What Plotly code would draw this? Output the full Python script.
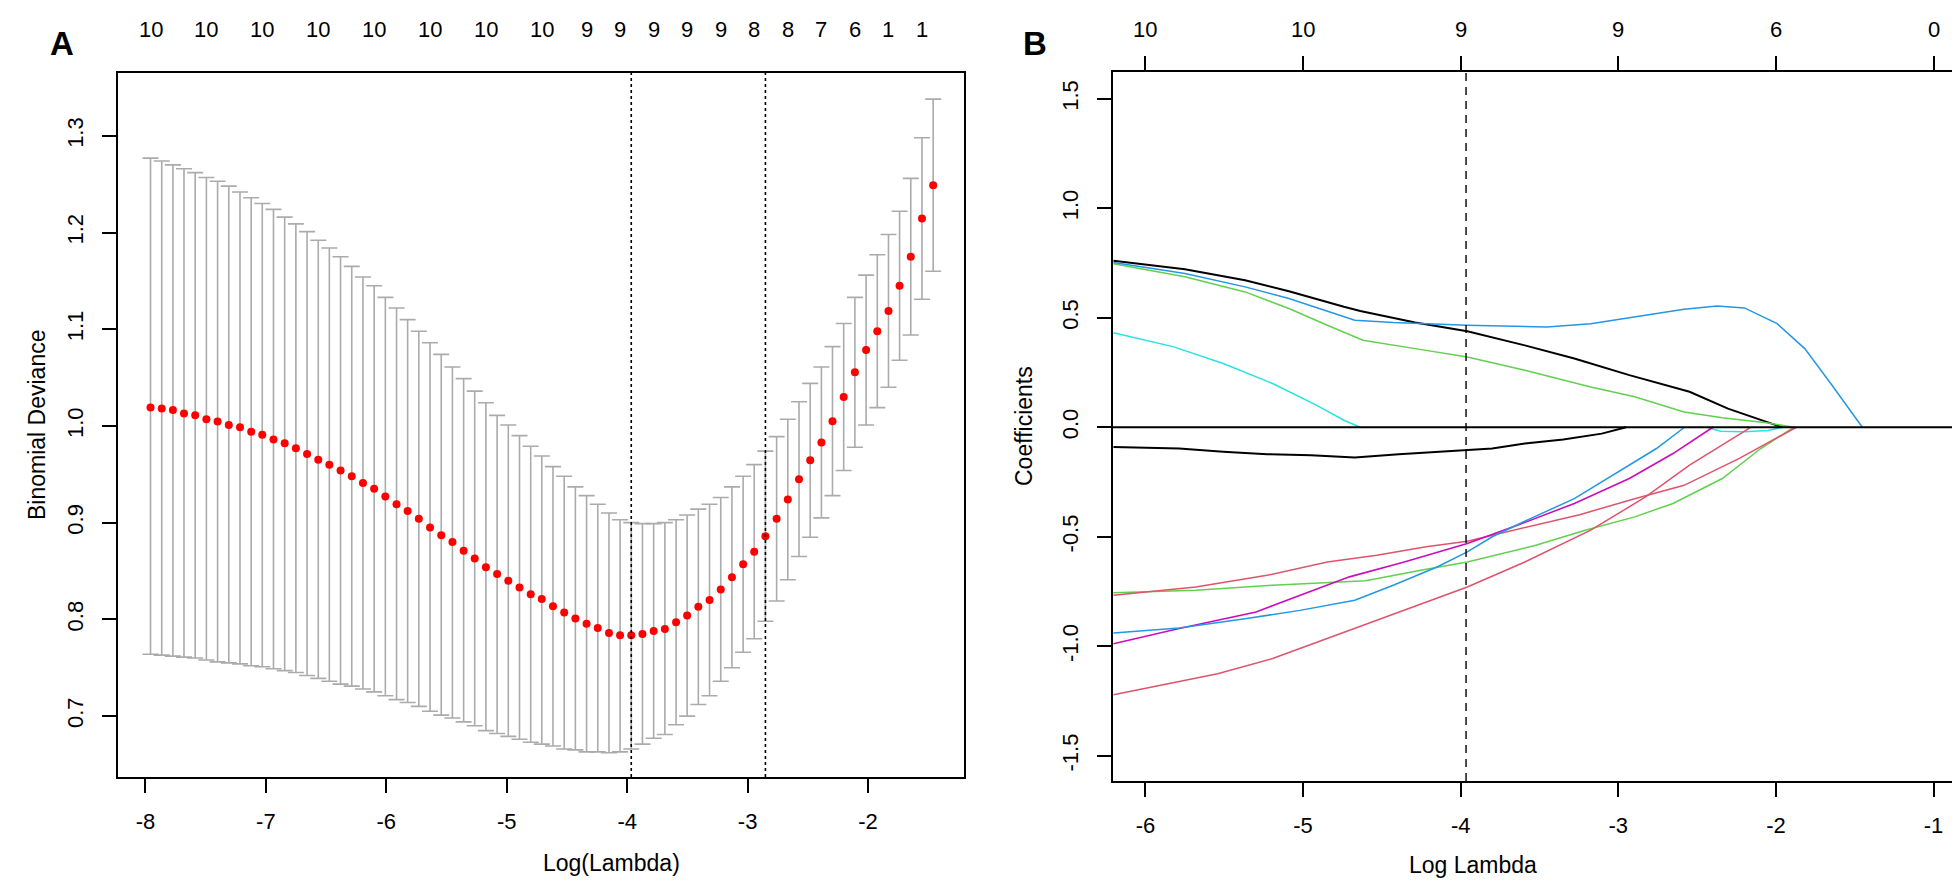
import plotly.graph_objects as go

# ---------------- Panel A data (cv.glmnet) ----------------
log_lambda = [-7.958, -7.865, -7.772, -7.680, -7.587, -7.494, -7.401, -7.308, -7.215, -7.122,
              -7.030, -6.937, -6.844, -6.751, -6.658, -6.565, -6.473, -6.380, -6.287, -6.194,
              -6.101, -6.008, -5.915, -5.823, -5.730, -5.637, -5.544, -5.451, -5.358, -5.266,
              -5.173, -5.080, -4.987, -4.894, -4.801, -4.709, -4.616, -4.523, -4.430, -4.337,
              -4.244, -4.151, -4.059, -3.966, -3.873, -3.780, -3.687, -3.594, -3.502, -3.409,
              -3.316, -3.223, -3.130, -3.037, -2.945, -2.852, -2.759, -2.666, -2.573, -2.480,
              -2.387, -2.295, -2.202, -2.109, -2.016, -1.923, -1.830, -1.738, -1.645, -1.552,
              -1.459]
cv_mean = [1.019, 1.018, 1.0165, 1.013, 1.011, 1.007, 1.0045, 1.001, 0.9986, 0.994,
           0.991, 0.986, 0.982, 0.977, 0.971, 0.965, 0.960, 0.954, 0.948, 0.941,
           0.935, 0.927, 0.919, 0.912, 0.904, 0.895, 0.887, 0.880, 0.871, 0.863,
           0.854, 0.847, 0.840, 0.833, 0.826, 0.821, 0.8135, 0.807, 0.801, 0.7955,
           0.791, 0.786, 0.7835, 0.7835, 0.785, 0.788, 0.790, 0.797, 0.804, 0.813,
           0.820, 0.831, 0.8435, 0.857, 0.870, 0.886, 0.904, 0.924, 0.945, 0.9645,
           0.983, 1.005, 1.030, 1.0555, 1.0786, 1.098, 1.119, 1.145, 1.175, 1.2145,
           1.249]
cv_upper = [1.277, 1.274, 1.270, 1.266, 1.262, 1.257, 1.253, 1.248, 1.242, 1.236,
            1.230, 1.224, 1.216, 1.209, 1.201, 1.192, 1.184, 1.175, 1.165, 1.154,
            1.145, 1.133, 1.122, 1.110, 1.098, 1.086, 1.074, 1.061, 1.049, 1.036,
            1.024, 1.011, 1.001, 0.990, 0.979, 0.969, 0.958, 0.948, 0.937, 0.928,
            0.919, 0.910, 0.903, 0.900, 0.899, 0.899, 0.900, 0.903, 0.908, 0.914,
            0.919, 0.926, 0.937, 0.948, 0.960, 0.974, 0.989, 1.007, 1.025, 1.044,
            1.061, 1.082, 1.106, 1.133, 1.156, 1.177, 1.198, 1.222, 1.256, 1.298,
            1.338]
cv_lower = [0.764, 0.763, 0.762, 0.761, 0.760, 0.758, 0.756, 0.755, 0.754, 0.752,
            0.751, 0.749, 0.747, 0.745, 0.742, 0.739, 0.736, 0.733, 0.731, 0.728,
            0.725, 0.721, 0.717, 0.714, 0.710, 0.705, 0.701, 0.698, 0.694, 0.690,
            0.685, 0.682, 0.679, 0.676, 0.673, 0.671, 0.669, 0.666, 0.665, 0.663,
            0.663, 0.662, 0.663, 0.666, 0.671, 0.677, 0.681, 0.691, 0.700, 0.712,
            0.721, 0.736, 0.750, 0.766, 0.780, 0.798, 0.819, 0.841, 0.865, 0.885,
            0.905, 0.928, 0.954, 0.978, 1.001, 1.019, 1.040, 1.068, 1.094, 1.131,
            1.160]
# number of non-zero coefficients shown on the top axis (label index, label)
nzero_idx = [0, 5, 10, 15, 20, 25, 30, 35, 39, 42, 45, 48, 51, 54, 57, 60, 63, 66, 69]
nzero_lab = ["10", "10", "10", "10", "10", "10", "10", "10", "9", "9", "9", "9", "9",
             "8", "8", "7", "6", "1", "1"]
lambda_min = -3.966
lambda_1se = -2.852
a_xticks = [-8, -7, -6, -5, -4, -3, -2]
a_yticks = [0.7, 0.8, 0.9, 1.0, 1.1, 1.2, 1.3]

# ---------------- Panel B data (coefficient paths) ----------------
black_pos_x = [-6.203, -5.75, -5.368, -5.09, -4.741, -4.637, -4.289, -3.958, -3.593, -3.279, -2.93, -2.548, -2.304, -1.992, -1.96]
black_pos_y = [0.760, 0.721, 0.671, 0.621, 0.550, 0.531, 0.478, 0.438, 0.374, 0.314, 0.238, 0.162, 0.085, 0.006, 0.0]
blue_pos_x = [-6.203, -5.75, -5.368, -5.09, -4.672, -4.428, -3.958, -3.454, -3.175, -2.896, -2.583, -2.374, -2.2, -1.992, -1.817, -1.644, -1.452]
blue_pos_y = [0.752, 0.702, 0.641, 0.588, 0.489, 0.478, 0.466, 0.458, 0.473, 0.504, 0.539, 0.554, 0.545, 0.473, 0.359, 0.192, 0.0]
green_pos_x = [-6.203, -5.75, -5.368, -5.09, -4.846, -4.62, -4.289, -3.958, -3.593, -3.175, -2.896, -2.583, -2.34, -2.061, -1.887]
green_pos_y = [0.747, 0.687, 0.618, 0.542, 0.466, 0.397, 0.359, 0.321, 0.260, 0.184, 0.139, 0.070, 0.043, 0.021, 0.0]
cyan_pos_x = [-6.203, -5.82, -5.507, -5.193, -4.916, -4.741, -4.637]
cyan_pos_y = [0.432, 0.367, 0.291, 0.200, 0.101, 0.032, 0.0]
cyan_neg_x = [-2.44, -2.35, -2.2, -2.05, -1.957]
cyan_neg_y = [0.0, -0.018, -0.020, -0.015, 0.0]
black_neg_x = [-6.203, -5.786, -5.507, -5.228, -4.95, -4.672, -4.393, -4.15, -3.958, -3.8, -3.593, -3.349, -3.105, -2.95]
black_neg_y = [-0.090, -0.097, -0.112, -0.123, -0.128, -0.138, -0.123, -0.112, -0.102, -0.097, -0.074, -0.056, -0.029, 0.0]
blue_neg_x = [-6.203, -5.786, -5.368, -5.02, -4.672, -4.428, -4.15, -3.958, -3.8, -3.558, -3.279, -3.0, -2.758, -2.58]
blue_neg_y = [-0.939, -0.916, -0.874, -0.836, -0.790, -0.721, -0.638, -0.569, -0.500, -0.417, -0.326, -0.204, -0.097, 0.0]
magenta_x = [-6.203, -5.786, -5.298, -5.02, -4.706, -4.358, -3.958, -3.628, -3.279, -2.93, -2.653, -2.40]
magenta_y = [-0.988, -0.919, -0.843, -0.767, -0.683, -0.615, -0.531, -0.444, -0.348, -0.234, -0.120, 0.0]
red1_x = [-6.203, -5.681, -5.228, -4.846, -4.532, -4.219, -3.958, -3.663, -3.245, -2.896, -2.583, -2.235, -1.87]
red1_y = [-0.767, -0.729, -0.676, -0.615, -0.584, -0.546, -0.520, -0.470, -0.399, -0.326, -0.265, -0.143, 0.0]
red2_x = [-6.203, -5.542, -5.193, -4.846, -4.393, -3.958, -3.593, -3.175, -2.827, -2.548, -2.16]
red2_y = [-1.221, -1.125, -1.056, -0.965, -0.843, -0.729, -0.615, -0.470, -0.318, -0.173, 0.0]
green_neg_x = [-6.203, -5.681, -5.193, -4.602, -4.254, -3.958, -3.523, -3.21, -2.896, -2.653, -2.34, -2.096, -1.887]
green_neg_y = [-0.755, -0.744, -0.721, -0.701, -0.653, -0.615, -0.539, -0.470, -0.409, -0.348, -0.234, -0.097, 0.0]
b_xticks = [-6, -5, -4, -3, -2, -1]
b_top_labels = ["10", "10", "9", "9", "6", "0"]
b_yticks = [-1.5, -1.0, -0.5, 0.0, 0.5, 1.0, 1.5]

# ---------------- styling ----------------
W, H = 1960, 888
FONT = "Liberation Sans, Arial, Helvetica, sans-serif"
R_BLACK, R_RED, R_GREEN, R_BLUE, R_CYAN, R_MAG = "#000000", "#DF536B", "#61D04F", "#2297E6", "#28E2E5", "#CD0BBC"


def px_x(p):
    return p / W


def px_y(p):
    return 1 - p / H


fig = go.Figure()

# Panel A: error bars (grey) then red points
err_plus = [u - m for u, m in zip(cv_upper, cv_mean)]
err_minus = [m - l for m, l in zip(cv_mean, cv_lower)]
fig.add_trace(go.Scatter(
    x=log_lambda, y=cv_mean, mode="markers", xaxis="x", yaxis="y",
    marker=dict(size=1, color="rgba(0,0,0,0)"),
    error_y=dict(type="data", symmetric=False, array=err_plus, arrayminus=err_minus,
                 color="#ABABAB", thickness=1.6, width=8),
    hoverinfo="skip", showlegend=False))
fig.add_trace(go.Scatter(
    x=log_lambda, y=cv_mean, mode="markers", xaxis="x", yaxis="y",
    marker=dict(size=8, color="#FF0000", line=dict(width=0)), showlegend=False))

# Panel B: coefficient paths
paths = [
    (black_pos_x, black_pos_y, R_BLACK, 2.0),
    (black_neg_x, black_neg_y, R_BLACK, 2.0),
    (cyan_pos_x, cyan_pos_y, R_CYAN, 1.5),
    (cyan_neg_x, cyan_neg_y, R_CYAN, 1.5),
    (green_pos_x, green_pos_y, R_GREEN, 1.5),
    (green_neg_x, green_neg_y, R_GREEN, 1.5),
    (red1_x, red1_y, R_RED, 1.5),
    (red2_x, red2_y, R_RED, 1.5),
    (magenta_x, magenta_y, R_MAG, 1.6),
    (blue_neg_x, blue_neg_y, R_BLUE, 1.5),
    (blue_pos_x, blue_pos_y, R_BLUE, 1.5),
]
for xs, ys, col, w in paths:
    fig.add_trace(go.Scatter(x=xs, y=ys, mode="lines", xaxis="x2", yaxis="y2",
                             line=dict(color=col, width=w), showlegend=False))

axis_common = dict(showgrid=False, zeroline=False, showline=True, linecolor="black",
                   linewidth=1.6, ticks="outside", ticklen=14, tickwidth=1.6,
                   tickcolor="black", tickfont=dict(family=FONT, size=22, color="black"))

fig.update_layout(
    width=W, height=H, paper_bgcolor="white", plot_bgcolor="white",
    margin=dict(l=0, r=0, t=0, b=0), showlegend=False,
    xaxis=dict(domain=[px_x(110), px_x(956)], anchor="y", range=[-8.228, -1.203],
               tickvals=a_xticks, ticktext=[str(v) for v in a_xticks], mirror=True,
               ticklabelstandoff=10, **axis_common),
    yaxis=dict(domain=[px_y(769), px_y(65)], anchor="x", range=[0.637, 1.365],
               tickvals=a_yticks, ticktext=["%.1f" % v for v in a_yticks], tickangle=-90,
               mirror=True, ticklabelstandoff=10, **axis_common),
    xaxis2=dict(domain=[px_x(1105), px_x(1958)], anchor="y2", range=[-6.206, -0.794],
                tickvals=b_xticks, ticktext=[str(v) for v in b_xticks], mirror="allticks",
                ticklabelstandoff=10, **axis_common),
    yaxis2=dict(domain=[px_y(773), px_y(64)], anchor="x2", range=[-1.615, 1.622],
                tickvals=b_yticks, ticktext=["%.1f" % v for v in b_yticks], tickangle=-90,
                mirror=True, ticklabelstandoff=10, **axis_common),
)

shapes = [
    dict(type="line", xref="x", yref="y domain", x0=lambda_min, x1=lambda_min, y0=0, y1=1,
         line=dict(color="black", width=1.6, dash="dot")),
    dict(type="line", xref="x", yref="y domain", x0=lambda_1se, x1=lambda_1se, y0=0, y1=1,
         line=dict(color="black", width=1.6, dash="dot")),
    dict(type="line", xref="x2", yref="y2 domain", x0=lambda_min, x1=lambda_min, y0=0, y1=1,
         line=dict(color="black", width=1.4, dash="8px,6px")),
    dict(type="line", xref="x2 domain", yref="y2", x0=0, x1=1, y0=0, y1=0,
         line=dict(color="black", width=2)),
]
fig.update_layout(shapes=shapes)

ann = []
# top labels panel A
for i, lab in zip(nzero_idx, nzero_lab):
    ann.append(dict(x=log_lambda[i], y=px_y(22), xref="x", yref="paper", text=lab,
                    showarrow=False, font=dict(family=FONT, size=22, color="black"),
                    xanchor="center", yanchor="middle"))
# top labels panel B
for v, lab in zip(b_xticks, b_top_labels):
    ann.append(dict(x=v, y=px_y(22), xref="x2", yref="paper", text=lab,
                    showarrow=False, font=dict(family=FONT, size=22, color="black"),
                    xanchor="center", yanchor="middle"))
# axis titles
ann += [
    dict(x=px_x(533), y=px_y(870), xref="paper", yref="paper", text="Log(Lambda)",
         showarrow=False, font=dict(family=FONT, size=23, color="black")),
    dict(x=px_x(14), y=px_y(417), xref="paper", yref="paper", text="Binomial Deviance",
         showarrow=False, textangle=-90, font=dict(family=FONT, size=23, color="black")),
    dict(x=px_x(1531), y=px_y(872), xref="paper", yref="paper", text="Log Lambda",
         showarrow=False, font=dict(family=FONT, size=23, color="black")),
    dict(x=px_x(1016), y=px_y(418), xref="paper", yref="paper", text="Coefficients",
         showarrow=False, textangle=-90, font=dict(family=FONT, size=23, color="black")),
    dict(x=px_x(40), y=px_y(15), xref="paper", yref="paper", text="<b>A</b>",
         showarrow=False, font=dict(family=FONT, size=33, color="black")),
    dict(x=px_x(1027), y=px_y(15), xref="paper", yref="paper", text="<b>B</b>",
         showarrow=False, font=dict(family=FONT, size=33, color="black")),
]
fig.update_layout(annotations=ann)

fig.write_html("out.html")
